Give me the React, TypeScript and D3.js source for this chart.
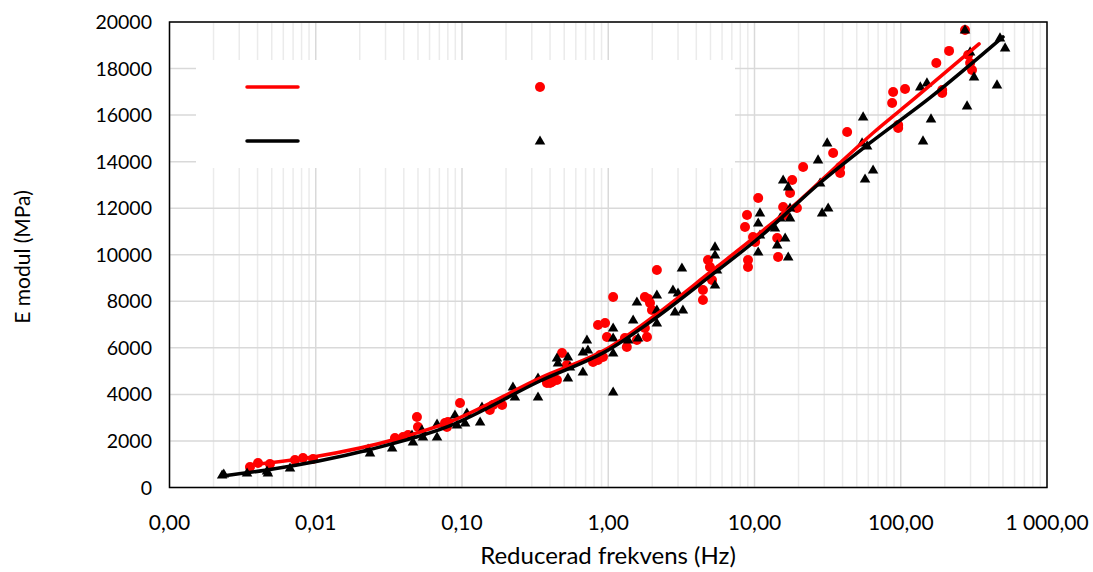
import React from "react";
import * as d3 from "d3";

// ---- Data (frequency in Hz, E modulus in MPa) ----
const xTickValues = [0.001, 0.01, 0.1, 1, 10, 100, 1000];
const xTickLabels = ["0,00", "0,01", "0,10", "1,00", "10,00", "100,00", "1 000,00"];
const yTickValues = [0, 2000, 4000, 6000, 8000, 10000, 12000, 14000, 16000, 18000, 20000];

const redPoints: [number, number][] = [
  [0.00355, 881], [0.00403, 1053], [0.00486, 1010], [0.00721, 1182], [0.00818, 1268], [0.00958, 1225],
  [0.0348, 2127], [0.0395, 2170], [0.0428, 2256], [0.0492, 3029], [0.05, 2600],
  [0.0765, 2772], [0.0789, 2600], [0.0801, 2815], [0.0969, 3631],
  [0.155, 3330], [0.163, 3545], [0.188, 3545],
  [0.381, 4490], [0.4, 4490], [0.412, 4533], [0.446, 4619], [0.483, 5780], [0.522, 5264],
  [0.787, 5393], [0.812, 5479], [0.851, 5479], [0.879, 5694], [0.921, 5608],
  [0.851, 6983], [0.951, 7069], [0.98, 6467], [1.08, 8186],
  [1.3, 6424], [1.34, 6037], [1.57, 6338], [1.78, 6854], [1.84, 6467],
  [1.78, 8186], [1.88, 8100], [1.93, 7928], [1.99, 7627], [2.15, 9346],
  [4.44, 8487], [4.44, 8057], [4.81, 9776], [4.96, 9475], [5.12, 8917],
  [8.61, 11194], [8.89, 11710], [9.03, 9776], [9.03, 9475], [9.77, 10764], [10.1, 10550], [10.6, 12440],
  [14.3, 10721], [14.5, 9905], [15.7, 12053], [16.2, 11710], [17.5, 12655], [18.1, 13213], [19.5, 12010], [21.5, 13772],
  [34.5, 14374], [38.5, 13772], [38.5, 13514], [43.0, 15276],
  [87.3, 16522], [88.7, 16995], [96.0, 15577], [96.0, 15448], [107, 17124],
  [175, 18242], [192, 17081], [192, 16952], [214, 18758], [275, 19660], [289, 18586], [298, 18242], [307, 17941],
];

const blackPoints: [number, number][] = [
  [0.00229, 537], [0.00235, 580], [0.00339, 623], [0.00464, 709], [0.00471, 623], [0.00667, 838],
  [0.0228, 1654], [0.0235, 1482], [0.0333, 1697],
  [0.0455, 2256], [0.0462, 1955], [0.0532, 2471], [0.0541, 2170], [0.0675, 2729], [0.0675, 2170],
  [0.0895, 3115], [0.0924, 2686], [0.105, 2772], [0.108, 3201], [0.133, 2815], [0.137, 3459],
  [0.223, 4319], [0.23, 3889], [0.331, 4705], [0.331, 3889],
  [0.446, 5565], [0.453, 5350], [0.53, 5608], [0.547, 5178], [0.53, 4705],
  [0.671, 5822], [0.671, 4963], [0.715, 6338], [0.726, 5908],
  [1.08, 6854], [1.08, 6424], [1.08, 5780], [1.08, 4104],
  [1.37, 6338], [1.48, 7198], [1.6, 6424], [1.57, 7971],
  [2.15, 8272], [2.15, 7627], [2.15, 7069],
  [2.77, 8487], [2.86, 7541], [3.0, 8358], [3.24, 7627], [3.19, 9432],
  [5.37, 10335], [5.37, 9991], [5.54, 9346], [5.37, 8702],
  [10.6, 11366], [10.9, 11796], [10.9, 10850], [10.6, 10120],
  [13.8, 11151], [15.0, 11581], [14.3, 10421], [16.2, 10721], [17.0, 9905],
  [15.7, 13213], [17.0, 12913], [17.5, 11581], [17.5, 12010],
  [27.2, 14073], [28.1, 13084], [31.4, 14804], [29.0, 11796], [31.9, 12010],
  [55.3, 15921], [54.4, 14804], [58.9, 14675], [57.0, 13256], [64.7, 13643],
  [136, 17210], [151, 17382], [161, 15835], [142, 14890],
  [275, 19660], [298, 18715], [317, 17640], [284, 16393],
  [455, 17296], [477, 19317], [517, 18887],
];

const redFit: [number, number][] = [
  [0.00355, 967], [0.00958, 1311], [0.0377, 2127], [0.079, 2772], [0.341, 4705],
  [1.028, 6037], [2.02, 7326], [5.2, 9346], [10.9, 10936], [20.5, 12354],
  [38.4, 13944], [64.6, 15233], [121, 16651], [343, 19057],
];

const blackFit: [number, number][] = [
  [0.00229, 494], [0.00464, 752], [0.0228, 1611], [0.079, 2600], [0.341, 4576],
  [1.028, 5951], [2.02, 7197], [5.2, 9174], [10.9, 10764], [28.0, 13084],
  [61.6, 14803], [158, 16737], [500, 19358],
];

// ---- Layout ----
const W = 1093;
const H = 572;
const plot = { left: 169.5, right: 1047, top: 22, bottom: 487.5 };
const FONT = "Lato, 'Open Sans', sans-serif";

export default function App() {
  const x = d3.scaleLog().domain([0.001, 1000]).range([plot.left, plot.right]);
  const y = d3.scaleLinear().domain([0, 20000]).range([plot.bottom, plot.top]);

  const minorTicks: number[] = [];
  for (let d = 0.001; d < 999; d *= 10) {
    for (let k = 2; k <= 9; k++) minorTicks.push(d * k);
  }

  const line = d3
    .line<[number, number]>()
    .x((d) => x(d[0]))
    .y((d) => y(d[1]))
    .curve(d3.curveMonotoneX);

  const tri = d3.symbol().type(d3.symbolTriangle).size(48)();

  return (
    <svg
      width={W}
      height={H}
      style={{ position: "absolute", left: 0, top: 0, background: "#fff" }}
      fontFamily={FONT}
    >
      <rect x={0} y={0} width={W} height={H} fill="#fff" />
      {/* minor vertical grid */}
      {minorTicks.map((t, i) => (
        <line key={"mn" + i} x1={x(t)} x2={x(t)} y1={plot.top} y2={plot.bottom} stroke="#ebebeb" strokeWidth={1.5} />
      ))}
      {/* major vertical grid */}
      {xTickValues.map((t, i) => (
        <line key={"mj" + i} x1={x(t)} x2={x(t)} y1={plot.top} y2={plot.bottom} stroke="#d9d9d9" strokeWidth={1.5} />
      ))}
      {/* horizontal grid */}
      {yTickValues.map((t, i) => (
        <line key={"hg" + i} x1={plot.left} x2={plot.right} y1={y(t)} y2={y(t)} stroke="#d9d9d9" strokeWidth={1.5} />
      ))}

      {/* legend box */}
      <rect x={196} y={60} width={539} height={108} fill="#fff" />
      <line x1={247} x2={298} y1={87} y2={87} stroke="#ff0000" strokeWidth={3.5} strokeLinecap="round" />
      <circle cx={540} cy={87} r={5} fill="#ff0000" />
      <line x1={247} x2={298} y1={141} y2={141} stroke="#000" strokeWidth={3.5} strokeLinecap="round" />
      <path d={tri as string} transform={`translate(540,141.5)`} fill="#000" />

      {/* data */}
      {redPoints.map((d, i) => (
        <circle key={"r" + i} cx={x(d[0])} cy={y(d[1])} r={5} fill="#ff0000" />
      ))}
      {blackPoints.map((d, i) => (
        <path key={"b" + i} d={tri as string} transform={`translate(${x(d[0])},${y(d[1]) + 0.5})`} fill="#000" />
      ))}
      <path d={line(redFit) as string} fill="none" stroke="#ff0000" strokeWidth={3.5} strokeLinecap="round" />
      <path d={line(blackFit) as string} fill="none" stroke="#000" strokeWidth={3.5} strokeLinecap="round" />

      {/* plot border */}
      <rect
        x={plot.left}
        y={plot.top}
        width={plot.right - plot.left}
        height={plot.bottom - plot.top}
        fill="none"
        stroke="#000"
        strokeWidth={1.5}
      />

      {/* y ticks */}
      {yTickValues.map((t, i) => (
        <text key={"yl" + i} x={152} y={y(t)} dy="0.36em" textAnchor="end" fontSize={19.5} fill="#000">
          {t}
        </text>
      ))}
      {/* x ticks */}
      {xTickValues.map((t, i) => (
        <text key={"xl" + i} x={x(t)} y={522} dy="0.36em" textAnchor="middle" fontSize={21} fill="#000">
          {xTickLabels[i]}
        </text>
      ))}
      <text x={608} y={555} dy="0.36em" textAnchor="middle" fontSize={24} fill="#000">
        Reducerad frekvens (Hz)
      </text>
      <text
        transform={`translate(22,257) rotate(-90)`}
        dy="0.36em"
        textAnchor="middle"
        fontSize={21}
        fill="#000"
      >
        E modul (MPa)
      </text>
    </svg>
  );
}
